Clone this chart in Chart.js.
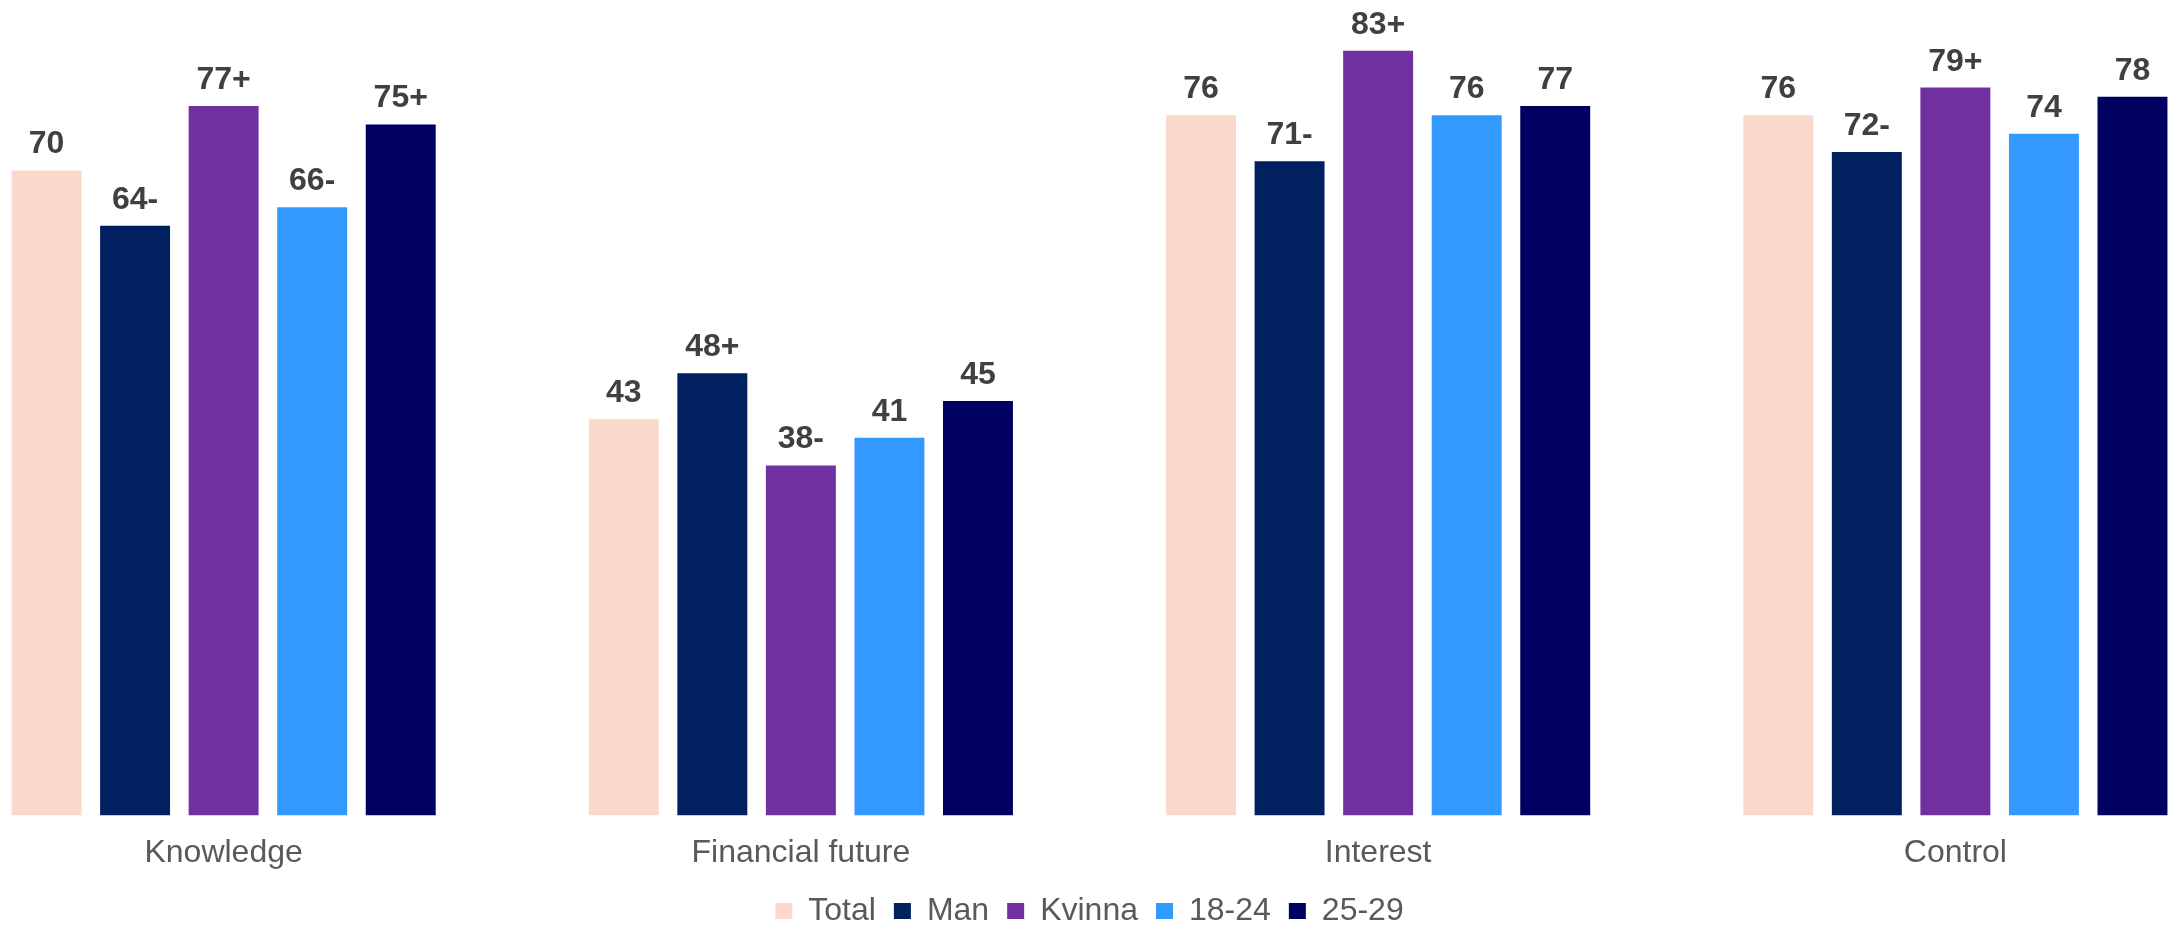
<!DOCTYPE html>
<html>
<head>
<meta charset="utf-8">
<script src="https://cdn.jsdelivr.net/npm/chart.js@4.4.1/dist/chart.umd.min.js"></script>
<style>
  html, body { margin: 0; padding: 0; background: #fff; overflow: hidden; }
  #wrap { position: absolute; left: -65px; top: 0; width: 2309px; height: 937px; }
</style>
</head>
<body>
<div id="wrap"><canvas id="canvasSurvey"></canvas></div>
<script>
"use strict";

var categories = ['Knowledge', 'Financial future', 'Interest', 'Control'];
var seriesNames = ['Total', 'Man', 'Kvinna', '18-24', '25-29'];

var totalValues = [70, 43, 76, 76];
var manValues = [64, 48, 71, 72];
var kvinnaValues = [77, 38, 83, 79];
var age1824Values = [66, 41, 76, 74];
var age2529Values = [75, 45, 77, 78];

// significance markers printed after each value
var totalSig = ['', '', '', ''];
var manSig = ['-', '+', '-', '-'];
var kvinnaSig = ['+', '-', '+', '+'];
var age1824Sig = ['-', '', '', ''];
var age2529Sig = ['+', '', '', ''];

var barColors = ['#FAD9CC', '#002060', '#7030A0', '#3399FF', '#000060'];

var allValues = [totalValues, manValues, kvinnaValues, age1824Values, age2529Values];
var allSig = [totalSig, manSig, kvinnaSig, age1824Sig, age2529Sig];

var fontFamily = '"Liberation Sans", Arial, sans-serif';

var datasets = [];
seriesNames.forEach(function (name, i) {
	datasets.push({
		label: name,
		data: allValues[i],
		sig: allSig[i],
		backgroundColor: barColors[i],
		borderWidth: 0,
		barPercentage: 0.79,
		categoryPercentage: 0.767
	});
});

// value + marker above every bar
var valueLabels = {
	id: 'valueLabels',
	afterDatasetsDraw: function (chart) {
		var ctx = chart.ctx;
		ctx.save();
		ctx.font = 'bold 32px ' + fontFamily;
		ctx.fillStyle = '#404040';
		ctx.textAlign = 'center';
		ctx.textBaseline = 'alphabetic';
		chart.data.datasets.forEach(function (ds, di) {
			var meta = chart.getDatasetMeta(di);
			meta.data.forEach(function (bar, i) {
				ctx.fillText(ds.data[i] + ds.sig[i], bar.x, bar.y - 17);
			});
		});
		ctx.restore();
	}
};

const context = document.getElementById('canvasSurvey');
const surveyChart = new Chart(context, {
	type: 'bar',
	data: {
		labels: categories,
		datasets: datasets
	},
	plugins: [valueLabels],
	options: {
		responsive: true,
		maintainAspectRatio: false,
		animation: false,
		layout: { padding: 0 },
		plugins: {
			tooltip: { enabled: false },
			legend: {
				position: 'bottom',
				labels: {
					boxWidth: 17,
					boxHeight: 16,
					padding: 18,
					color: '#595959',
					font: { family: fontFamily, size: 32 }
				}
			}
		},
		scales: {
			x: {
				grid: { display: false, drawTicks: false },
				border: { display: false },
				ticks: {
					padding: 18,
					color: '#595959',
					font: { family: fontFamily, size: 32 }
				},
				afterFit: function (scale) {
					// labels sit close to the legend
					scale.height -= 13;
				}
			},
			y: {
				display: false,
				min: 0,
				max: 88.5
			}
		}
	}
});
</script>
</body>
</html>
